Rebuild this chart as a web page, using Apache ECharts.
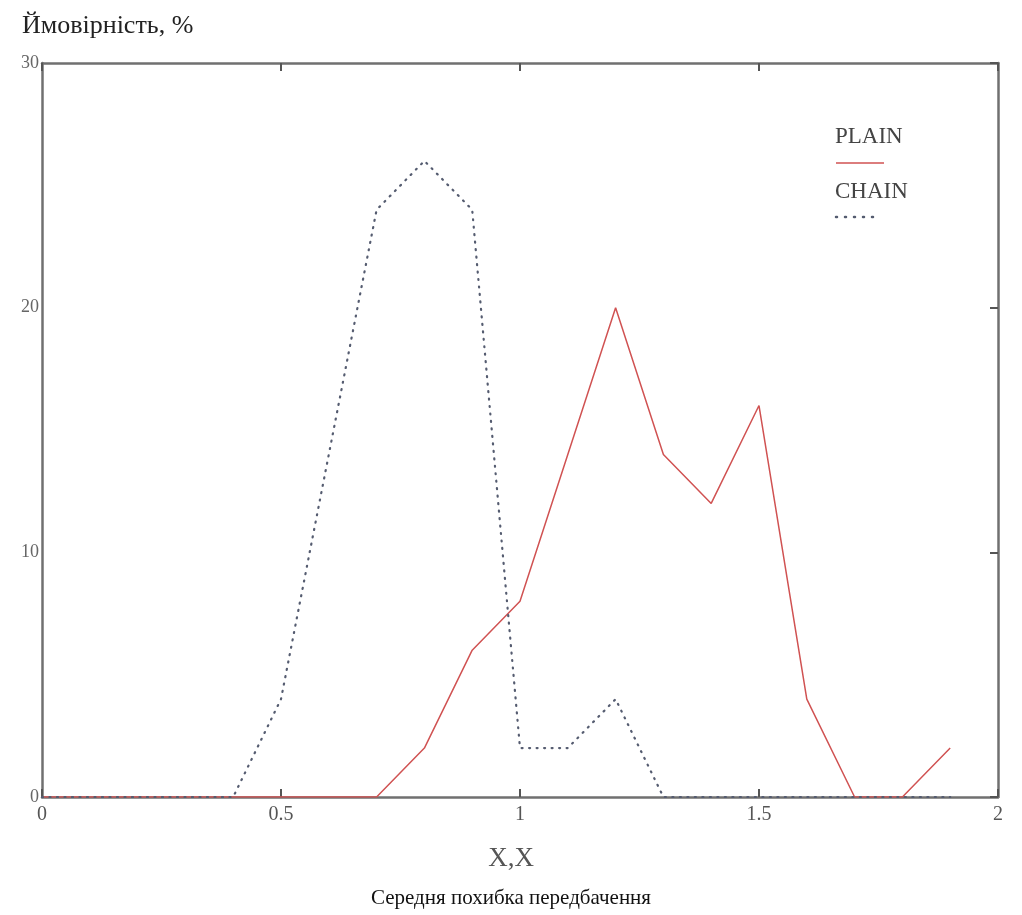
<!DOCTYPE html>
<html>
<head>
<meta charset="utf-8">
<script src="https://cdn.jsdelivr.net/npm/echarts@6/dist/echarts.min.js"></script>
<style>html,body{margin:0;padding:0;background:#fff;}#c{width:1022px;height:915px;}</style>
</head>
<body>
<div id="c"></div>
<script>
var xValues = [0, 0.1, 0.2, 0.3, 0.4, 0.5, 0.6, 0.7, 0.8, 0.9, 1.0, 1.1, 1.2, 1.3, 1.4, 1.5, 1.6, 1.7, 1.8, 1.9];
var plainValues = [0, 0, 0, 0, 0, 0, 0, 0, 2, 6, 8, 14, 20, 14, 12, 16, 4, 0, 0, 2];
var chainValues = [0, 0, 0, 0, 0, 4, 14, 24, 26, 24, 2, 2, 4, 0, 0, 0, 0, 0, 0, 0];
var seriesNames = ['PLAIN', 'CHAIN'];
var yTitle = 'Ймовірність, %';
var xTitle = 'X,X';
var caption = 'Середня похибка передбачення';

var serif = '"Liberation Serif", "DejaVu Serif", serif';
function pairs(vals) { return xValues.map(function (x, i) { return [x, vals[i]]; }); }
function fmt(v) { return String(Math.round(v * 10) / 10); }

var chart = echarts.init(document.getElementById('c'));
var axisLine = { show: true, onZero: false, lineStyle: { color: '#707070', width: 2.5 } };
var tick = { show: true, inside: true, length: 8, lineStyle: { color: '#555', width: 2 } };
chart.setOption({
  animation: false,
  backgroundColor: '#fff',
  grid: { left: 42, right: 24, top: 63, bottom: 118 },
  xAxis: [
    { type: 'value', min: 0, max: 2, interval: 0.5, position: 'bottom',
      axisLine: axisLine, axisTick: tick, splitLine: { show: false },
      axisLabel: { formatter: fmt, color: '#555', fontFamily: serif, fontSize: 20, margin: 8 } },
    { type: 'value', min: 0, max: 2, interval: 0.5, position: 'top',
      axisLine: axisLine, axisTick: tick, splitLine: { show: false }, axisLabel: { show: false } }
  ],
  yAxis: [
    { type: 'value', min: 0, max: 30, interval: 10, position: 'left',
      axisLine: axisLine, axisTick: { show: false }, splitLine: { show: false },
      axisLabel: { formatter: fmt, color: '#666', fontFamily: serif, fontSize: 18, margin: 3 } },
    { type: 'value', min: 0, max: 30, interval: 10, position: 'right',
      axisLine: axisLine, axisTick: tick, splitLine: { show: false }, axisLabel: { show: false } }
  ],
  series: [
    { name: seriesNames[0], type: 'line', data: pairs(plainValues), showSymbol: false, z: 3,
      lineStyle: { color: '#d05252', width: 1.5 } },
    { name: seriesNames[1], type: 'line', data: pairs(chainValues), showSymbol: false, z: 4,
      lineStyle: { color: '#555c70', width: 2.2, type: [1, 6.5], cap: 'round' } }
  ],
  graphic: [
    { type: 'text', left: 22, top: 13, style: { text: yTitle, font: '26px ' + serif, fill: '#222' } },
    { type: 'text', left: 'center', top: 845, style: { text: xTitle, font: '27px ' + serif, fill: '#555' } },
    { type: 'text', left: 'center', top: 888, style: { text: caption, font: '21px ' + serif, fill: '#111' } },
    { type: 'text', left: 835, top: 125, style: { text: seriesNames[0], font: '23px ' + serif, fill: '#444' } },
    { type: 'line', shape: { x1: 836, y1: 163, x2: 884, y2: 163 }, style: { stroke: '#d05252', lineWidth: 1.5 } },
    { type: 'text', left: 835, top: 180, style: { text: seriesNames[1], font: '23px ' + serif, fill: '#444' } },
    { type: 'line', shape: { x1: 836, y1: 217, x2: 876, y2: 217 }, style: { stroke: '#555c70', lineWidth: 2.5, lineDash: [1, 8], lineCap: 'round' } }
  ]
});
</script>
</body>
</html>
